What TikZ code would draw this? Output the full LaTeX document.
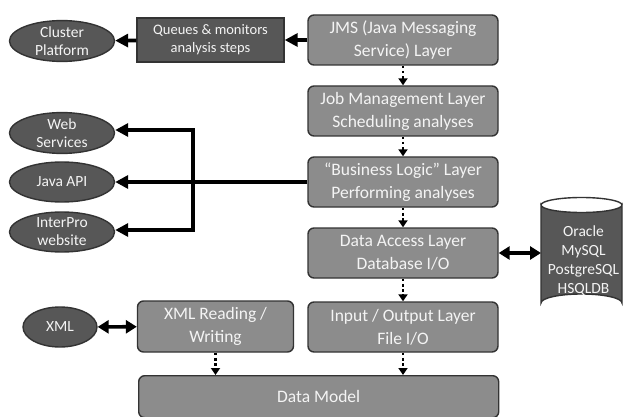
\documentclass[tikz,border=0pt]{standalone}
\usepackage{fontspec}
\setmainfont{Carlito}
\usetikzlibrary{arrows.meta,shapes.geometric}
\definecolor{layerfill}{HTML}{8C8C8C}
\definecolor{darkfill}{HTML}{575757}
\definecolor{edge}{HTML}{333333}
\definecolor{label}{HTML}{F4F4F4}
\tikzset{
  layer/.style={draw=edge, line width=1.4pt, fill=layerfill, rounded corners=6pt,
    text=label, align=center, font=\fontsize{17.5}{23}\selectfont, inner sep=0pt},
  darkbox/.style={draw=edge, line width=1.4pt, fill=darkfill, text=label,
    align=center, font=\fontsize{14.5}{18}\selectfont, inner sep=0pt},
  client/.style={draw=edge, line width=1.4pt, fill=darkfill, ellipse, text=label,
    align=center, font=\fontsize{15.5}{18}\selectfont, inner sep=0pt},
  flow/.style={line width=3.6pt, -{Triangle[length=13pt,width=13pt]}},
  both/.style={line width=3.6pt, {Triangle[length=11pt,width=13pt]}-{Triangle[length=11pt,width=13pt]}},
  dep/.style={line width=2.6pt, dash pattern=on 2.6pt off 2.6pt, -{Triangle[length=7pt,width=9pt]}},
}
\begin{document}
\begin{tikzpicture}[x=1pt, y=-1pt]
\useasboundingbox (0,0) rectangle (624,417);

% main layer stack
\node[layer, minimum width=190pt, minimum height=50pt] (jms) at (403,40) {JMS (Java Messaging\\Service) Layer};
\node[layer, minimum width=190pt, minimum height=50pt] (job) at (403,111) {Job Management Layer\\Scheduling analyses};
\node[layer, minimum width=190pt, minimum height=50pt] (biz) at (403,182) {“Business Logic” Layer\\Performing analyses};
\node[layer, minimum width=190pt, minimum height=50pt] (dal) at (403,253) {Data Access Layer\\Database I/O};
\node[layer, minimum width=190pt, minimum height=50pt] (io) at (403,327) {Input / Output Layer\\File I/O};
\node[layer, minimum width=156pt, minimum height=51pt] (xmlrw) at (215.5,326.5) {XML Reading /\\Writing};
\node[layer, minimum width=360pt, minimum height=42pt, anchor=north west] (model) at (138,375) {Data Model};

% side blocks
\node[darkbox, minimum width=147pt, minimum height=44pt] (queue) at (210.5,40) {Queues \& monitors\\analysis steps};
\node[client, minimum width=105pt, minimum height=37pt] (cluster) at (62,41) {Cluster\\Platform};
\node[client, minimum width=105pt, minimum height=40pt] (ws) at (62,133) {Web\\Services};
\node[client, minimum width=105pt, minimum height=40pt] (api) at (62,182) {Java API};
\node[client, minimum width=105pt, minimum height=40pt] (ipr) at (62,232) {InterPro\\website};
\node[client, minimum width=74pt, minimum height=40pt] (xml) at (60,327) {XML};

% database cylinder
\filldraw[draw=edge, line width=1.4pt, fill=darkfill]
  (541,205) -- (541,303) arc[start angle=180, end angle=360, x radius=40.5, y radius=9]
  -- (622,205) arc[start angle=0, end angle=180, x radius=40.5, y radius=7.5] -- cycle;
\draw[edge, line width=1.4pt] (541,205) arc[start angle=180, end angle=360, x radius=40.5, y radius=7.5];
\node[text=label, align=center, font=\fontsize{15.5}{19}\selectfont, minimum width=81pt, minimum height=115pt, inner sep=0pt] (db) at (583.5,261) {Oracle\\MySQL\\PostgreSQL\\HSQLDB};

% layer-to-layer dependencies
\draw[dep] (jms) -- (job);
\draw[dep] (job) -- (biz);
\draw[dep] (biz) -- (dal);
\draw[dep] (dal) -- (io);
\draw[dep] (io.south) -- (io.south |- model.north);
\draw[dep] (xmlrw.south) -- (xmlrw.south |- model.north);

% external connections
\draw[flow] (jms) -- (queue);
\draw[flow] (queue) -- (cluster);
\draw[flow] (biz) -- (api);
\coordinate (fork) at (193,182);
\draw[flow] (fork) -- (193,130) -- (ws.east |- 0,130);
\draw[flow] (fork) -- (193,230) -- (ipr.east |- 0,230);
\draw[both] (xml) -- (xmlrw);
\draw[both] (dal) -- (541,253);
\end{tikzpicture}
\end{document}
